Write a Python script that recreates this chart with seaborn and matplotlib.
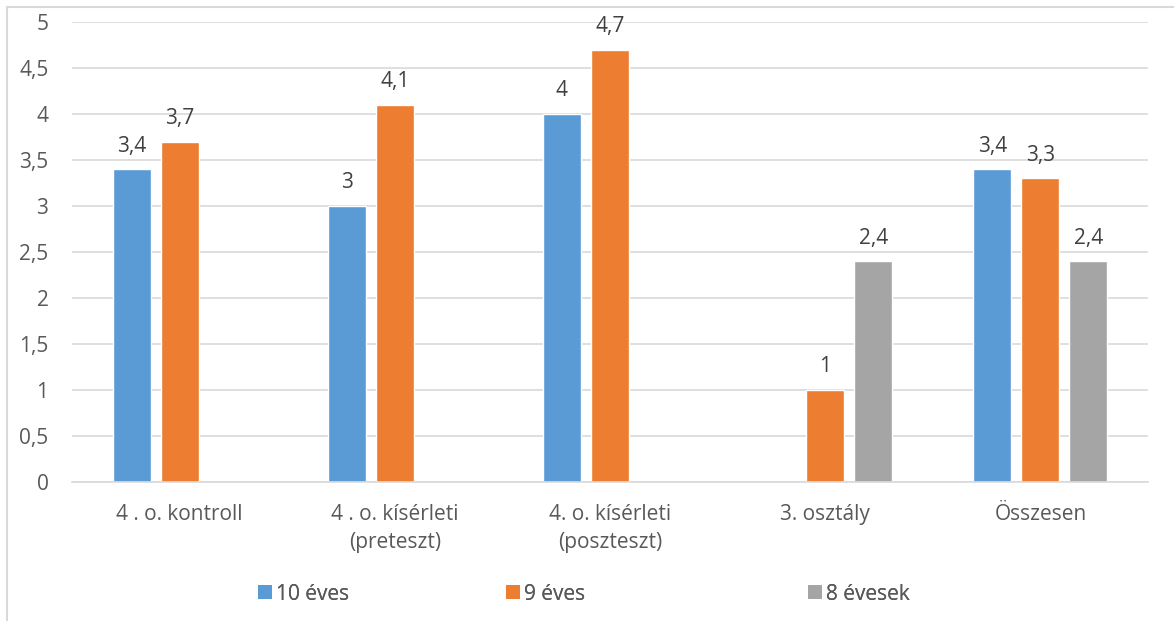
import matplotlib
matplotlib.use("Agg")
import matplotlib.pyplot as plt
from matplotlib.lines import Line2D
from matplotlib.patches import Patch
import seaborn as sns
import pandas as pd
import numpy as np

categories = ["4 . o. kontroll", "4 . o. kísérleti\n(preteszt)", "4. o. kísérleti\n(poszteszt)",
              "3. osztály", "Összesen"]
series = ["10 éves", "9 éves", "8 évesek"]
vals_10 = [3.4, 3.0, 4.0, None, 3.4]
vals_9 = [3.7, 4.1, 4.7, 1.0, 3.3]
vals_8 = [None, None, None, 2.4, 2.4]
colors = ["#5B9BD5", "#ED7D31", "#A5A5A5"]
yticks = [0, 0.5, 1, 1.5, 2, 2.5, 3, 3.5, 4, 4.5, 5]

rows = []
for name, vals in zip(series, [vals_10, vals_9, vals_8]):
    for cat, v in zip(categories, vals):
        if v is not None:
            rows.append({"cat": cat, "series": name, "value": v})
df = pd.DataFrame(rows)

sns.set_theme(style="white")
plt.rcParams["font.family"] = ["Open Sans", "DejaVu Sans"]
text_color = "#595959"
grid_color = "#D9D9D9"
fs = 15

fig = plt.figure(figsize=(11.74, 6.21), dpi=100)
fig.patch.set_edgecolor("none")
ax = fig.add_axes([72 / 1174, 1 - 482 / 621, (1148 - 72) / 1174, (482 - 22) / 621])

sns.barplot(data=df, x="cat", y="value", hue="series", order=categories, hue_order=series,
            palette=colors, width=0.67, gap=0.21, dodge=True, saturation=1, ax=ax,
            legend=False, errorbar=None)

def fmt(v):
    return f"{v:g}".replace(".", ",")

for cont in ax.containers:
    labels = [fmt(b.get_height()) if not np.isnan(b.get_height()) else "" for b in cont]
    ax.bar_label(cont, labels=labels, padding=9, fontsize=fs, color="#404040")

ax.set_ylim(0, 5)
ax.set_xlim(-0.5, len(categories) - 0.5)
ax.set_yticks(yticks)
ax.set_yticklabels([fmt(t) for t in yticks], fontsize=fs, color=text_color)
ax.yaxis.grid(True, color=grid_color, linewidth=1.2)
ax.set_axisbelow(True)
ax.set_xlabel("")
ax.set_ylabel("")
ax.tick_params(axis="x", which="major", length=0, labelsize=fs, labelcolor=text_color, pad=16)
ax.tick_params(axis="y", length=0, pad=17)
ax.set_xticks(np.arange(-0.5, len(categories)), minor=True)
ax.tick_params(axis="x", which="minor", length=6, color=grid_color, width=1.2, direction="out")
for lab in ax.get_xticklabels():
    lab.set_linespacing(1.4)
for side in ["top", "right", "left"]:
    ax.spines[side].set_visible(False)
ax.spines["bottom"].set_color(grid_color)
ax.spines["bottom"].set_linewidth(1.2)

# legend entries spread across the bottom
legend_x = [258, 506, 808]
for name, col, lx in zip(series, colors, legend_x):
    leg = fig.legend(handles=[Patch(facecolor=col, edgecolor="none")], labels=[name],
                     loc="center left", bbox_to_anchor=(lx / 1174, 1 - 594 / 621),
                     frameon=False, fontsize=fs, handlelength=0.65, handleheight=0.65,
                     handletextpad=0.2, borderpad=0, borderaxespad=0, labelcolor=text_color)
    fig.add_artist(leg)

# outer frame lines
fig.add_artist(Line2D([7 / 1174, 1], [1 - 7 / 621, 1 - 7 / 621], transform=fig.transFigure,
                      color=grid_color, linewidth=1.5))
fig.add_artist(Line2D([7 / 1174, 7 / 1174], [0, 1 - 7 / 621], transform=fig.transFigure,
                      color=grid_color, linewidth=1.5))

fig.savefig("out.png", dpi=100)
